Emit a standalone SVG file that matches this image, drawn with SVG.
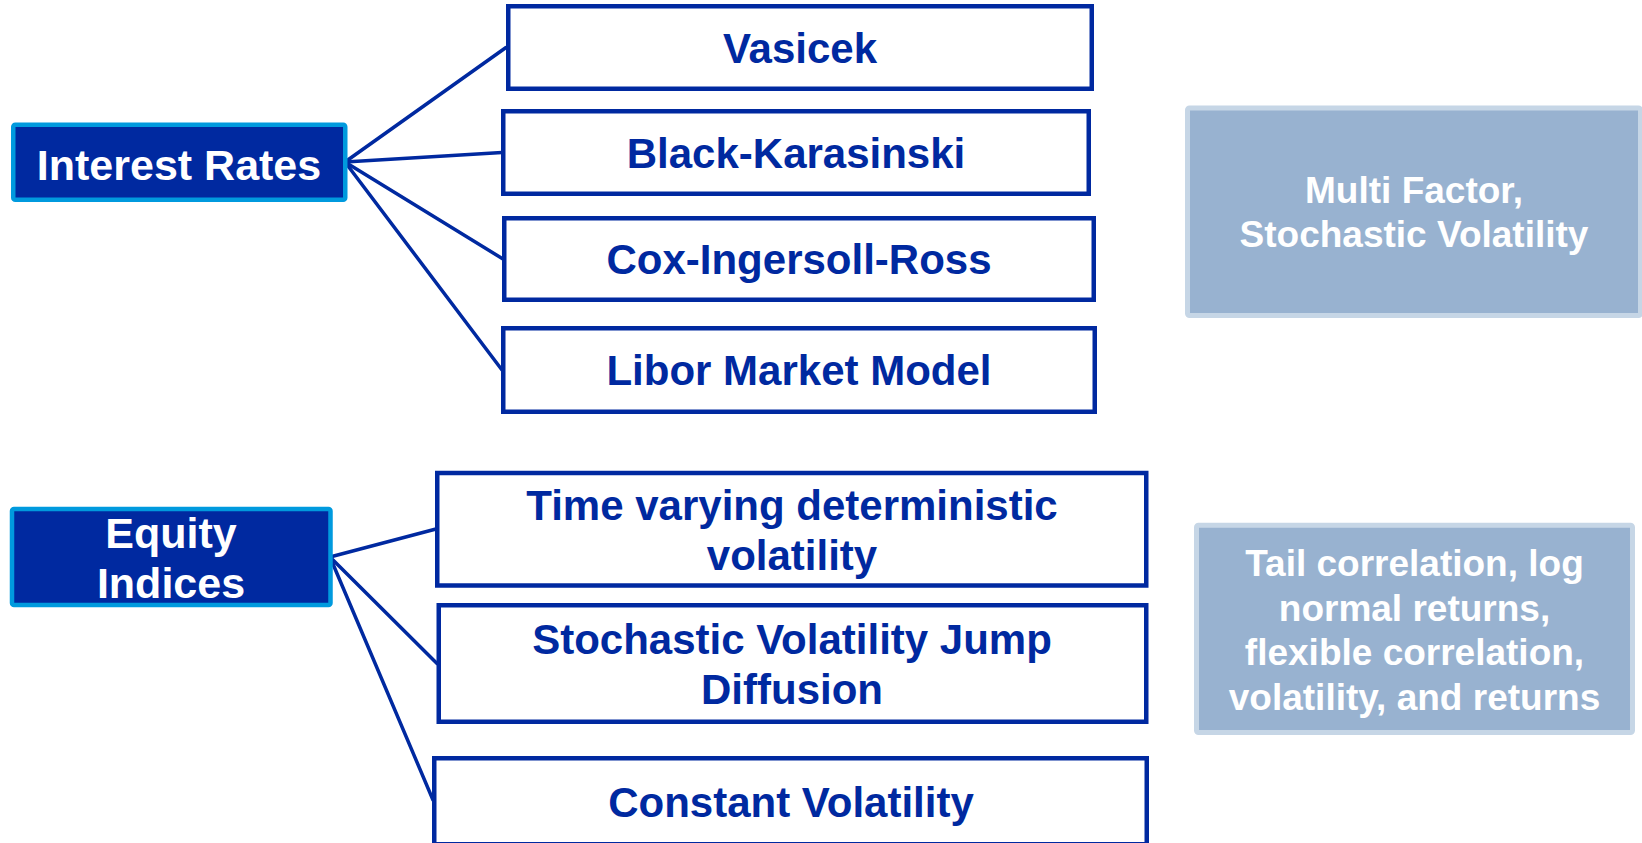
<svg xmlns="http://www.w3.org/2000/svg" width="1642" height="843" viewBox="0 0 1642 843">
  <style>
    .cat rect { fill: #0029a0; stroke: #009ade; stroke-width: 4.5; }
    .cat text { fill: #ffffff; font-family: "Liberation Sans", Arial, sans-serif; font-weight: bold; font-size: 43px; text-anchor: middle; }
    .model rect { fill: #ffffff; stroke: #0029a0; stroke-width: 4.5; }
    .model text { fill: #0029a0; font-family: "Liberation Sans", Arial, sans-serif; font-weight: bold; font-size: 42px; text-anchor: middle; }
    .note rect { fill: #98b2d0; stroke: #c6d6e6; stroke-width: 5; }
    .note text { fill: #ffffff; font-family: "Liberation Sans", Arial, sans-serif; font-weight: bold; font-size: 37px; text-anchor: middle; }
    .conn line { stroke: #0029a0; stroke-width: 3.5; stroke-linecap: round; }
  </style>
  <rect x="0" y="0" width="1642" height="843" fill="#ffffff"/>

  <g id="connectors" class="conn">
    <line x1="345" y1="162" x2="506" y2="47.5"/>
    <line x1="345" y1="162" x2="502" y2="152.5"/>
    <line x1="345" y1="162" x2="503" y2="259"/>
    <line x1="345" y1="162" x2="502" y2="370"/>
    <line x1="330" y1="557" x2="436" y2="529"/>
    <line x1="330" y1="557" x2="437" y2="663.5"/>
    <line x1="330" y1="557" x2="433" y2="800"/>
  </g>

  <g id="interest-rates" class="cat">
    <rect x="13.25" y="124.75" width="332" height="75" rx="2"/>
    <text x="179" y="180">Interest Rates</text>
  </g>

  <g id="vasicek" class="model">
    <rect x="508.25" y="6.25" width="583.5" height="82.5"/>
    <text x="800" y="62.5">Vasicek</text>
  </g>
  <g id="black-karasinski" class="model">
    <rect x="503.25" y="111.25" width="585.5" height="82.5"/>
    <text x="796" y="167.5">Black-Karasinski</text>
  </g>
  <g id="cox-ingersoll-ross" class="model">
    <rect x="504.25" y="218.25" width="589.5" height="81.5"/>
    <text x="799" y="274">Cox-Ingersoll-Ross</text>
  </g>
  <g id="libor-market-model" class="model">
    <rect x="503.25" y="328.25" width="591.5" height="83.5"/>
    <text x="799" y="385">Libor Market Model</text>
  </g>

  <g id="multi-factor" class="note">
    <rect x="1187.5" y="108" width="453" height="207.5" rx="2"/>
    <text x="1414" y="203">Multi Factor,</text>
    <text x="1414" y="247">Stochastic Volatility</text>
  </g>

  <g id="equity-indices" class="cat">
    <rect x="12" y="509" width="318.5" height="96" rx="2"/>
    <text x="171" y="548">Equity</text>
    <text x="171" y="598">Indices</text>
  </g>

  <g id="time-varying" class="model">
    <rect x="437.25" y="473" width="709" height="112.5"/>
    <text x="792" y="519.5">Time varying deterministic</text>
    <text x="792" y="569.5">volatility</text>
  </g>
  <g id="svjd" class="model">
    <rect x="438.75" y="605.25" width="707.5" height="116.5"/>
    <text x="792" y="653.5">Stochastic Volatility Jump</text>
    <text x="792" y="703.5">Diffusion</text>
  </g>
  <g id="constant-volatility" class="model">
    <rect x="434.25" y="758.25" width="712.5" height="86"/>
    <text x="791" y="817">Constant Volatility</text>
  </g>

  <g id="tail-correlation" class="note">
    <rect x="1196.5" y="525.2" width="436" height="207.3" rx="2"/>
    <text x="1414.5" y="576">Tail correlation, log</text>
    <text x="1414.5" y="620.5">normal returns,</text>
    <text x="1414.5" y="665">flexible correlation,</text>
    <text x="1414.5" y="709.5">volatility, and returns</text>
  </g>
</svg>
